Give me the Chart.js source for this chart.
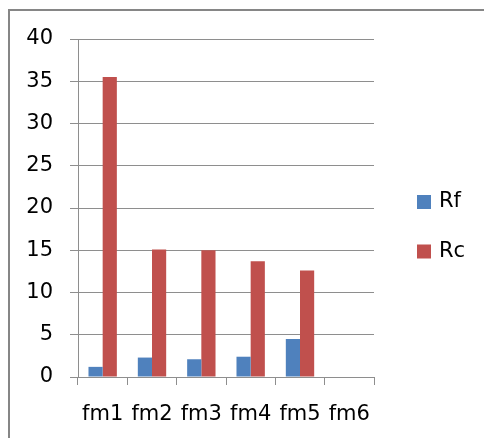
<!DOCTYPE html>
<html>
<head>
<meta charset="utf-8">
<script src="https://cdn.jsdelivr.net/npm/chart.js@4/dist/chart.umd.min.js"></script>
<style>
  html, body { margin: 0; padding: 0; background: #fff; overflow: hidden; }
  #chart { display: block; }
</style>
</head>
<body>
<canvas id="chart" width="484" height="438"></canvas>
<script>
// chart data
const categories = ["fm1", "fm2", "fm3", "fm4", "fm5", "fm6"];
const rfValues = [1.2, 2.3, 2.1, 2.4, 4.5, null];
const rcValues = [35.5, 15.1, 15.0, 13.7, 12.6, null];
const seriesNames = ["Rf", "Rc"];
const seriesColors = ["#4F81BD", "#C0504D"];

const FONT = "'DejaVu Sans', sans-serif";
const GRID = "#8e8e8e";

// chart frame (only top and left edges fall inside the picture)
const frame = {
  id: "frame",
  beforeDraw(chart) {
    const ctx = chart.ctx;
    ctx.save();
    ctx.strokeStyle = "#868686";
    ctx.lineWidth = 2;
    ctx.beginPath();
    ctx.moveTo(9, chart.height + 2);
    ctx.lineTo(9, 10);
    ctx.lineTo(chart.width + 2, 10);
    ctx.stroke();
    ctx.restore();
  },
};

// simple legend drawn at the right, like the office chart
const sideLegend = {
  id: "sideLegend",
  afterDraw(chart) {
    const ctx = chart.ctx;
    ctx.save();
    ctx.font = "21px " + FONT;
    ctx.textBaseline = "middle";
    chart.data.datasets.forEach((ds, i) => {
      const y = 195 + i * 49.5;
      ctx.fillStyle = ds.backgroundColor;
      ctx.fillRect(417, y, 14, 14);
      ctx.fillStyle = "#000";
      ctx.fillText(ds.label, 439, y + 7);
    });
    ctx.restore();
  },
};

new Chart(document.getElementById("chart"), {
  type: "bar",
  data: {
    labels: categories,
    datasets: [
      { label: seriesNames[0], data: rfValues, backgroundColor: seriesColors[0] },
      { label: seriesNames[1], data: rcValues, backgroundColor: seriesColors[1] },
    ],
  },
  options: {
    responsive: false,
    animation: false,
    categoryPercentage: 0.575,
    barPercentage: 1,
    layout: { padding: { left: 0, top: 39, right: 110, bottom: 0 } },
    plugins: {
      legend: { display: false },
      tooltip: { enabled: false },
    },
    scales: {
      x: {
        grid: {
          drawOnChartArea: false,
          drawTicks: true,
          tickLength: 8,
          color: GRID,
        },
        border: { color: GRID, width: 1 },
        ticks: { color: "#000", font: { family: FONT, size: 21 }, padding: 17, maxRotation: 0 },
        afterFit: (scale) => { scale.height = 61; },
      },
      y: {
        min: 0,
        max: 40,
        ticks: { stepSize: 5, color: "#000", font: { family: FONT, size: 21 }, padding: 17 },
        grid: { color: GRID, lineWidth: 1, tickLength: 8 },
        border: { color: GRID, width: 1 },
        afterFit: (scale) => { scale.width = 78; },
      },
    },
  },
  plugins: [frame, sideLegend],
});
</script>
</body>
</html>
